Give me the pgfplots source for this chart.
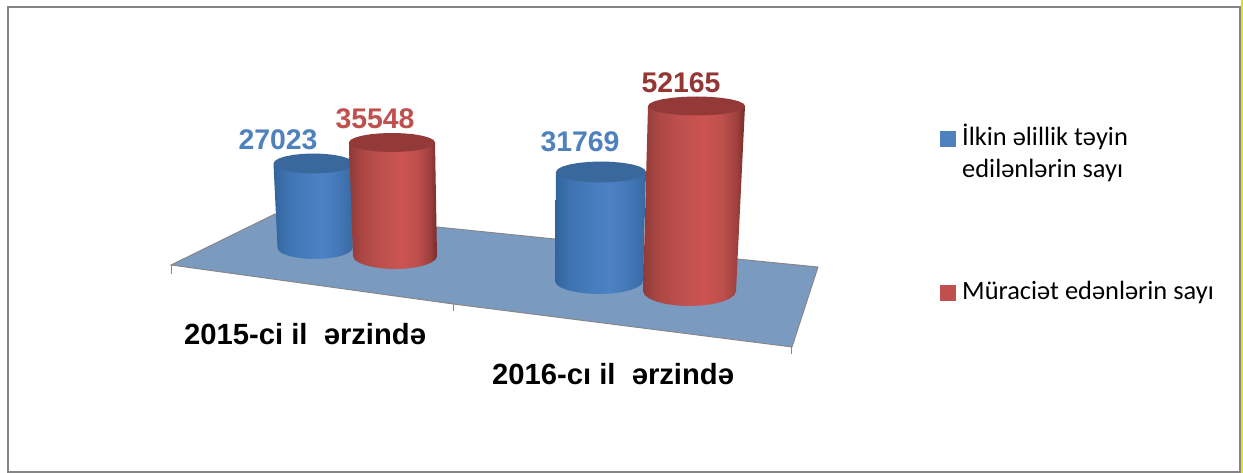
\documentclass[border=0pt]{standalone}
\usepackage{fontspec}
\usepackage{pgfplots}
\usepackage{pgfplotstable}
\pgfplotsset{compat=1.18}
\setmainfont{Liberation Sans}
\newfontfamily\calib{Carlito}
\definecolor{floorc}{HTML}{7A9ABF}
\definecolor{frm}{HTML}{858585}
\definecolor{bluelab}{HTML}{4F81BD}
\definecolor{redlab}{HTML}{C0504D}
\definecolor{darklab}{HTML}{943634}
\definecolor{bluecyltop}{HTML}{3A679C}
\definecolor{redcyltop}{HTML}{933A38}
\pgfdeclarehorizontalshading{bluecyl}{100bp}{
 rgb(0bp)=(0.20,0.39,0.61);
 rgb(25bp)=(0.20,0.39,0.61);
 rgb(33bp)=(0.24,0.45,0.69);
 rgb(42bp)=(0.27,0.48,0.73);
 rgb(55bp)=(0.30,0.51,0.77);
 rgb(65bp)=(0.27,0.47,0.72);
 rgb(75bp)=(0.22,0.41,0.64);
 rgb(100bp)=(0.22,0.41,0.64)}
\pgfdeclarehorizontalshading{redcyl}{100bp}{
 rgb(0bp)=(0.56,0.23,0.22);
 rgb(25bp)=(0.56,0.23,0.22);
 rgb(33bp)=(0.68,0.28,0.27);
 rgb(42bp)=(0.74,0.31,0.30);
 rgb(55bp)=(0.80,0.33,0.32);
 rgb(64bp)=(0.74,0.31,0.30);
 rgb(71bp)=(0.62,0.25,0.24);
 rgb(75bp)=(0.46,0.17,0.16);
 rgb(100bp)=(0.46,0.17,0.16)}
\pgfplotstableread{
u v b
-1 0 0
1 0 0
1 0 1
0.966 0.259 1
0.866 0.5 1
0.707 0.707 1
0.5 0.866 1
0.259 0.966 1
0 1 1
-0.259 0.966 1
-0.5 0.866 1
-0.707 0.707 1
-0.866 0.5 1
-0.966 0.259 1
-1 0 1
}\bodytab
\pgfplotstableread{
u v
1 0
0.966 0.259
0.866 0.5
0.707 0.707
0.5 0.866
0.259 0.966
0 1
-0.259 0.966
-0.5 0.866
-0.707 0.707
-0.866 0.5
-0.966 0.259
-1 0
-0.966 -0.259
-0.866 -0.5
-0.707 -0.707
-0.5 -0.866
-0.259 -0.966
0 -1
0.259 -0.966
0.5 -0.866
0.707 -0.707
0.866 -0.5
0.966 -0.259
}\toptab
% #1 shading (top colour #1top) #2-5 top cx cy rx ry #6-9 bottom cx cy rx ry
\newcommand{\cyl}[9]{%
 \addplot[shading=#1,draw=none,forget plot] table[
   x expr={(1-\thisrow{b})*(#2+\thisrow{u}*#4)+\thisrow{b}*(#6+\thisrow{u}*#8)},
   y expr={(1-\thisrow{b})*(#3+\thisrow{v}*#5)+\thisrow{b}*(#7+\thisrow{v}*#9)}] {\bodytab} --cycle;
 \addplot[fill=#1top,draw=none,forget plot] table[
   x expr={#2+\thisrow{u}*#4},
   y expr={#3+\thisrow{v}*#5}] {\toptab} --cycle;
}
\begin{document}
\begin{tikzpicture}
\begin{axis}[
  scale only axis, width=1243pt, height=473pt,
  xmin=0, xmax=1243, ymin=0, ymax=473, y dir=reverse,
  hide axis, clip=false,
  every node near coord/.append style={anchor=center,font=\fontsize{28.4}{30}\selectfont\bfseries},
]
\fill[white] (axis cs:0,0) rectangle (axis cs:1243,473);
\fill[yellow!90!black] (axis cs:1241,0) rectangle (axis cs:1243,473);
\draw[frm,line width=2pt] (axis cs:8,7) rectangle (axis cs:1240,472);
% floor
\addplot[fill=floorc,draw=frm,line width=0.9pt,forget plot] coordinates {(171,265)(275,214)(437,227)(555,239)(737,259)(818,267)(792,347)(453,304)} --cycle;
\addplot[frm,line width=1pt,forget plot] coordinates {(171,265)(171,274)};
\addplot[frm,line width=1pt,forget plot] coordinates {(453,303)(453,311)};
\addplot[frm,line width=1pt,forget plot] coordinates {(791,346)(791,354)};
% cylinders
\cyl{bluecyl}{313.5}{163.5}{40}{10}{315}{248}{37.5}{11}
\cyl{redcyl}{392}{142.5}{43}{9.5}{395}{256}{42}{13}
\cyl{bluecyl}{601}{172}{45}{10.5}{599}{281}{44}{13}
\cyl{redcyl}{696.5}{106}{48.5}{9.5}{689.5}{291}{46.5}{15}
% value labels
\addplot[only marks,mark=none,forget plot,point meta=explicit symbolic,nodes near coords,
  every node near coord/.append style={text=bluelab}] coordinates {(278,140)[27023] (580,142)[31769]};
\addplot[only marks,mark=none,forget plot,point meta=explicit symbolic,nodes near coords,
  every node near coord/.append style={text=redlab}] coordinates {(375,119)[35548]};
\addplot[only marks,mark=none,forget plot,point meta=explicit symbolic,nodes near coords,
  every node near coord/.append style={text=darklab}] coordinates {(681,83)[52165]};
% category labels
\node[anchor=base west,inner sep=0pt,font=\fontsize{29.2}{31}\selectfont\bfseries] at (axis cs:184,344) {2015-ci il\ \ ərzində};
\node[anchor=base west,inner sep=0pt,font=\fontsize{29.2}{31}\selectfont\bfseries] at (axis cs:492,384) {2016-cı il\ \ ərzində};
% legend
\addplot[only marks,mark=square*,mark size=7.5pt,color=bluelab,forget plot] coordinates {(947.5,138.5)};
\addplot[only marks,mark=square*,mark size=7.5pt,color=redlab,forget plot] coordinates {(947.5,292.5)};
\node[anchor=base west,inner sep=0pt,font=\calib\fontsize{26.4}{28}\selectfont] at (axis cs:962,146) {İlkin əlillik təyin};
\node[anchor=base west,inner sep=0pt,font=\calib\fontsize{26.4}{28}\selectfont] at (axis cs:962,178) {edilənlərin sayı};
\node[anchor=base west,inner sep=0pt,font=\calib\fontsize{26.4}{28}\selectfont] at (axis cs:962,299) {Müraciət edənlərin sayı};
\end{axis}
\end{tikzpicture}
\end{document}
